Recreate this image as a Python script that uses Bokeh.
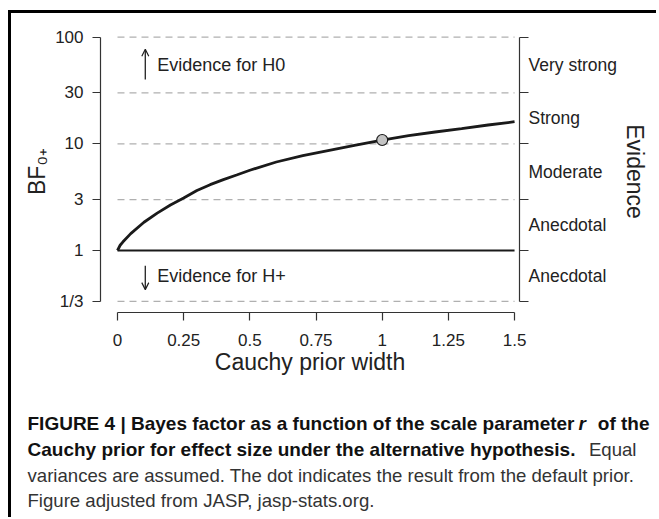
from bokeh.plotting import figure
from bokeh.layouts import column
from bokeh.models import (FixedTicker, LogAxis, Range1d, Label, Arrow, OpenHead,
                          ColumnDataSource)
from bokeh.embed import file_html
from bokeh.resources import INLINE

# ---------------- data ----------------
prior_width = [0.0, 0.01, 0.02, 0.05, 0.1, 0.15, 0.2, 0.25, 0.3, 0.35, 0.4, 0.45,
               0.5, 0.6, 0.7, 0.8, 0.9, 1.0, 1.1, 1.2, 1.3, 1.4, 1.5]
bf0plus = [1.0, 1.12, 1.2, 1.44, 1.84, 2.24, 2.67, 3.1, 3.65, 4.14, 4.62, 5.1,
           5.65, 6.75, 7.76, 8.68, 9.72, 10.85, 11.9, 12.9, 13.9, 15.0, 16.1]
default_r = [1.0]
default_bf = [10.85]

x_ticks = [0, 0.25, 0.5, 0.75, 1, 1.25, 1.5]
x_tick_labels = ["0", "0.25", "0.5", "0.75", "1", "1.25", "1.5"]
bf_ticks = [1 / 3, 1, 3, 10, 30, 100]
bf_tick_labels = ["1/3", "1", "3", "10", "30", "100"]
grid_levels = [1 / 3, 3, 10, 30, 100]
evidence_labels = ["Anecdotal", "Anecdotal", "Moderate", "Strong", "Very strong"]

FONT = "Liberation Sans"
TXT = "#222222"

# page position of the canvases (margin + border of the column)
OX, OY = 11, 13
MAIN_H = 382          # canvas height of the chart
CAP_H = 122           # canvas height of the caption
CAP_W = 645

p = figure(frame_width=419, frame_height=282,
           x_range=Range1d(-0.0642, 1.5187), y_range=Range1d(0.2624, 115.3),
           y_axis_type="log", output_backend="svg", toolbar_location=None,
           min_border_left=89, min_border_right=137, min_border_top=17,
           min_border_bottom=MAIN_H - 17 - 282, frame_align=False)
p.outline_line_color = None
p.xgrid.visible = False
p.ygrid.visible = False
p.background_fill_color = "white"
p.border_fill_color = "white"

src_grid = ColumnDataSource(dict(x0=[x_ticks[0]] * len(grid_levels),
                                 x1=[x_ticks[-1]] * len(grid_levels),
                                 y=grid_levels))
p.segment(x0="x0", y0="y", x1="x1", y1="y", source=src_grid,
          line_color="#b0b0b0", line_width=1.2, line_dash="7 5")
p.segment(x0=[x_ticks[0]], y0=[1], x1=[x_ticks[-1]], y1=[1],
          line_color="#1a1a1a", line_width=2)

p.line(prior_width, bf0plus, line_color="#1a1a1a", line_width=2.8)
p.scatter(default_r, default_bf, size=11, fill_color="#c4c4c4",
          line_color="#1a1a1a", line_width=1.2)


def style_axis(ax):
    ax.axis_line_color = "#333333"
    ax.axis_line_width = 1.2
    ax.major_tick_line_color = "#333333"
    ax.major_tick_line_width = 1.2
    ax.minor_tick_line_color = "#333333"
    ax.minor_tick_line_width = 1.2
    ax.major_label_text_font = FONT
    ax.major_label_text_font_size = "17px"
    ax.major_label_text_color = TXT
    ax.axis_label_text_font = FONT
    ax.axis_label_text_font_style = "normal"
    ax.axis_label_text_color = TXT
    ax.axis_label_text_font_size = "23px"


xax = p.xaxis[0]
style_axis(xax)
xax.ticker = FixedTicker(ticks=x_ticks, minor_ticks=[])
xax.major_label_overrides = dict(zip(x_ticks, x_tick_labels))
xax.bounds = (x_ticks[0], x_ticks[-1])
xax.major_tick_out = 8
xax.major_tick_in = 0
xax.major_label_standoff = 13
xax.axis_label = "Cauchy prior width"
xax.axis_label_standoff = 0

yax = p.yaxis[0]
style_axis(yax)
yax.ticker = FixedTicker(ticks=bf_ticks, minor_ticks=[])
yax.major_label_overrides = dict(zip(bf_ticks, bf_tick_labels))
yax.bounds = (bf_ticks[0], bf_ticks[-1])
yax.major_tick_out = 8
yax.major_tick_in = 0
yax.major_label_standoff = 9
yax.axis_label = "BF\u2080\u208a"
yax.axis_label_standoff = 2

evidence_mid = [(bf_ticks[i] * bf_ticks[i + 1]) ** 0.5 for i in range(len(bf_ticks) - 1)]
rax = LogAxis(ticker=FixedTicker(ticks=evidence_mid, minor_ticks=bf_ticks))
style_axis(rax)
rax.major_label_text_font_size = "17.5px"
rax.major_label_overrides = dict(zip(evidence_mid, evidence_labels))
rax.bounds = (bf_ticks[0], bf_ticks[-1])
rax.major_tick_out = 0
rax.major_tick_in = 0
rax.minor_tick_out = 9
rax.minor_tick_in = 0
rax.major_label_standoff = 0
rax.axis_label = "Evidence"
rax.axis_label_standoff = 2
p.add_layout(rax, "right")

for (y0, y1, ty, txt) in [(40, 77, (30 * 100) ** 0.5, "Evidence for H0"),
                          (0.72, 0.43, (1 / 3) ** 0.5, "Evidence for H+")]:
    p.add_layout(Arrow(end=OpenHead(size=7, line_width=1.2, line_color=TXT),
                       x_start=0.105, y_start=y0, x_end=0.105, y_end=y1,
                       line_width=1.3, line_color=TXT))
    p.add_layout(Label(x=0.15, y=ty, text=txt, text_font=FONT,
                       text_font_size="18px", text_color=TXT,
                       text_baseline="middle", text_align="left"))

# ---------------- caption panel ----------------
cap_fig = figure(width=CAP_W, height=CAP_H, x_range=Range1d(0, CAP_W),
                 y_range=Range1d(CAP_H, 0), x_axis_location=None,
                 y_axis_location=None, toolbar_location=None,
                 output_backend="svg", min_border=0, frame_align=False)
cap_fig.outline_line_color = None
cap_fig.xgrid.visible = False
cap_fig.ygrid.visible = False
cap_fig.background_fill_color = "white"
cap_fig.border_fill_color = "white"

CAP_TOP = OY + MAIN_H
BOLD = "19px"
REG = "18.6px"


def cap(px, py, text, style="normal", align="left", size=REG, color="#333333"):
    cap_fig.add_layout(Label(x=px - OX, y=py - CAP_TOP, text=text, text_font=FONT,
                             text_font_size=size, text_font_style=style,
                             text_color=color, text_align=align,
                             text_baseline="middle"))


cap(27, 423, "FIGURE 4 | Bayes factor as a function of the scale parameter", "bold",
    size=BOLD, color="#111111")
cap(578, 423, "r", "bold italic", size=BOLD, color="#111111")
cap(649, 423, "of the", "bold", align="right", size=BOLD, color="#111111")
cap(27, 449, "Cauchy prior for effect size under the alternative hypothesis.", "bold",
    size=BOLD, color="#111111")
cap(636, 449, "Equal", align="right")
cap(27, 475, "variances are assumed. The dot indicates the result from the default prior.")
cap(27, 500, "Figure adjusted from JASP, jasp-stats.org.")

layout = column(p, cap_fig, spacing=0,
                styles={"border-top": "3px solid #000", "border-left": "3px solid #000",
                        "margin-top": "10px", "margin-left": "8px"})

open("out.html", "w").write(file_html(layout, INLINE))
